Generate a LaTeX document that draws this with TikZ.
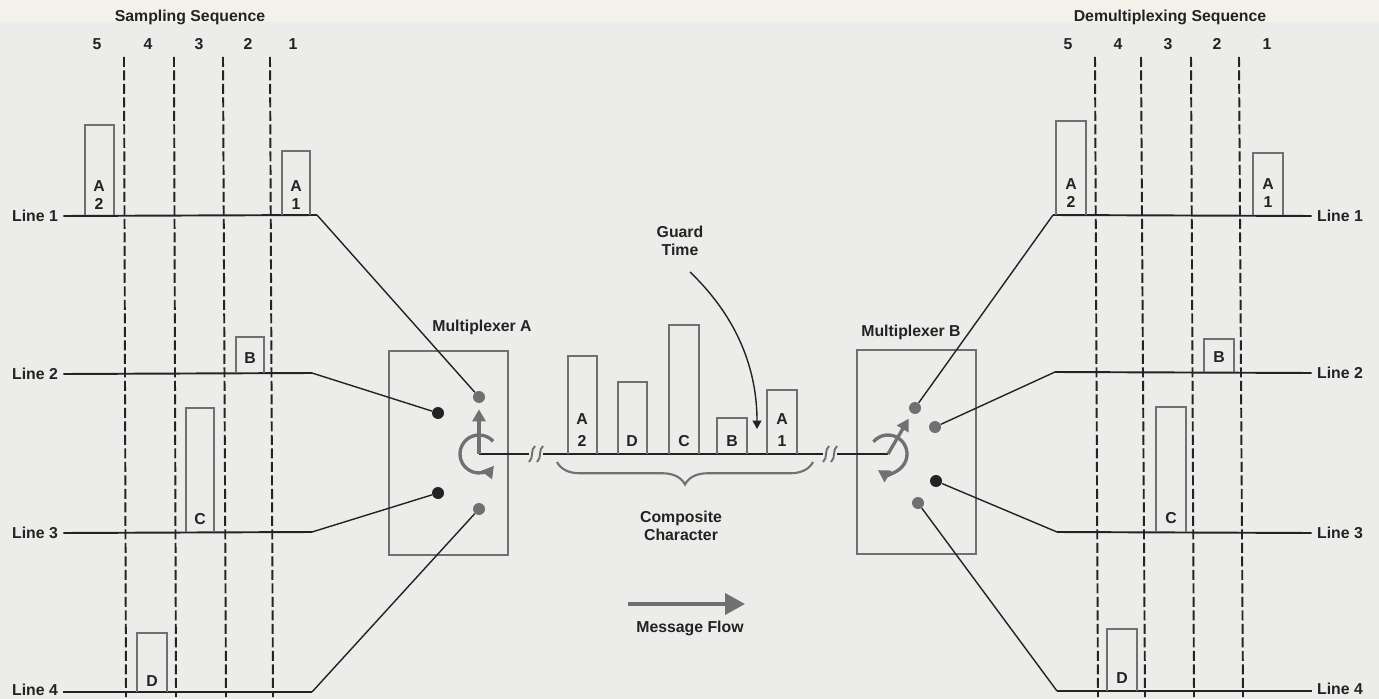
\documentclass[tikz,border=0pt]{standalone}
\usepackage{fontspec}
\setmainfont{Liberation Sans}
\usepackage{tikz}
\usetikzlibrary{arrows.meta,calc,decorations.pathreplacing}
\definecolor{paper}{RGB}{236,236,234}
\definecolor{cream}{RGB}{243,241,234}
\definecolor{ink}{RGB}{35,35,35}
\definecolor{pen}{RGB}{112,112,112}

\begin{document}
\begin{tikzpicture}[
    x=0.02cm, y=-0.02cm,
    txt/.style={font=\fontsize{9}{10}\selectfont\bfseries, text=ink, align=center, inner sep=1pt},
    linelbl/.style={txt, inner sep=3pt},
    sig/.style={draw=ink, line width=1.1pt},
    wire/.style={draw=ink, line width=0.8pt},
    pulse/.style={draw=pen, line width=1.1pt},
    slot/.style={draw=ink, line width=1.1pt, dash pattern=on 0.2cm off 0.07cm},
    mux/.style={draw=pen, line width=1.3pt, minimum width=2.38cm, minimum height=4.08cm, inner sep=0pt},
    dotk/.style={circle, fill=ink, inner sep=0pt, minimum size=0.24cm},
    dotg/.style={dotk, fill=pen},
    rotor/.style={draw=pen, line width=1.9pt},
    brk/.style={draw=pen, line width=1.1pt},
    flow/.style={draw=pen, line width=2.2pt, -{Triangle[length=0.4cm, width=0.42cm]}},
    tip/.style={-{Triangle[length=0.17cm, width=0.18cm]}},
    rtip/.style={-{Triangle[length=0.24cm, width=0.26cm]}}
]

% Paper
\fill[paper] (0,0) rectangle (1379,699);
\fill[cream] (0,0) rectangle (1379,22);
\useasboundingbox (0,0) rectangle (1379,699);

% Titles
\node[txt] (smpTitle) at (190,17) {Sampling Sequence};
\node[txt] (dmxTitle) at (1170,17) {Demultiplexing Sequence};

% Slot numbers (sampling)
\node[txt] (sn5) at (97,44) {5};
\node[txt] (sn4) at (148,44) {4};
\node[txt] (sn3) at (199,44) {3};
\node[txt] (sn2) at (248,44) {2};
\node[txt] (sn1) at (293,44) {1};

% Slot numbers (demultiplexing)
\node[txt] (dn5) at (1068,44) {5};
\node[txt] (dn4) at (1118,44) {4};
\node[txt] (dn3) at (1168,44) {3};
\node[txt] (dn2) at (1217,44) {2};
\node[txt] (dn1) at (1267,44) {1};

% Slot boundaries
\draw[slot] (124,57) -- (126,697);
\draw[slot] (174,57) -- (176,697);
\draw[slot] (223,57) -- (226,697);
\draw[slot] (270,57) -- (273,697);
\draw[slot] (1095,57) -- (1098,697);
\draw[slot] (1141,57) -- (1145,697);
\draw[slot] (1191,57) -- (1194,697);
\draw[slot] (1239,57) -- (1243,697);

% Line labels (left)
\node[linelbl] (lineL1) at (35,216) {Line 1};
\node[linelbl] (lineL2) at (35,374) {Line 2};
\node[linelbl] (lineL3) at (35,533) {Line 3};
\node[linelbl] (lineL4) at (35,690) {Line 4};

% Line labels (right)
\node[linelbl] (lineR1) at (1340,216) {Line 1};
\node[linelbl] (lineR2) at (1340,373) {Line 2};
\node[linelbl] (lineR3) at (1340,533) {Line 3};
\node[linelbl] (lineR4) at (1340,689) {Line 4};

% Multiplexers
\node[mux] (muxA) at (448.5,453) {};
\node[mux] (muxB) at (916.5,452) {};
\node[txt] (muxAlbl) at (482,327) {Multiplexer A};
\node[txt] (muxBlbl) at (911,332) {Multiplexer B};

% Contacts
\node[dotg] (dA1) at (479,397) {};
\node[dotk] (dA2) at (438,413) {};
\node[dotk] (dA3) at (438,493) {};
\node[dotg] (dA4) at (479,509) {};
\node[dotg] (dB1) at (915,408) {};
\node[dotg] (dB2) at (935,427) {};
\node[dotk] (dB3) at (936,481) {};
\node[dotg] (dB4) at (918,503) {};

% Bends of the lines
\coordinate (kL1) at (317,215);
\coordinate (kL2) at (312,373);
\coordinate (kL3) at (312,532);
\coordinate (kL4) at (312,692);
\coordinate (kR1) at (1053,215);
\coordinate (kR2) at (1055,372);
\coordinate (kR3) at (1057,532);
\coordinate (kR4) at (1057,691);

% Input lines to multiplexer A
\draw[sig] (lineL1.east) -- (kL1);
\draw[wire] (kL1) -- (dA1);
\draw[sig] (lineL2.east) -- (kL2);
\draw[wire] (kL2) -- (dA2);
\draw[sig] (lineL3.east) -- (kL3);
\draw[wire] (kL3) -- (dA3);
\draw[sig] (lineL4.east |- kL4) -- (kL4);
\draw[wire] (kL4) -- (dA4);

% Output lines from multiplexer B
\draw[wire] (dB1) -- (kR1);
\draw[sig] (kR1) -- (lineR1.west);
\draw[wire] (dB2) -- (kR2);
\draw[sig] (kR2) -- (lineR2.west);
\draw[wire] (dB3) -- (kR3);
\draw[sig] (kR3) -- (lineR3.west);
\draw[wire] (dB4) -- (kR4);
\draw[sig] (kR4) -- (lineR4.west |- kR4);

% Sampled characters (left)
\draw[pulse] (85,215) |- (114,125) -- (114,215);
\node[txt] (pA2) at (99,195) {A\\2};
\draw[pulse] (282,215) |- (310,151) -- (310,215);
\node[txt] (pA1) at (296,195) {A\\1};
\draw[pulse] (236,373) |- (264,337) -- (264,373);
\node[txt] (pB) at (250,358) {B};
\draw[pulse] (186,532) |- (214,408) -- (214,532);
\node[txt] (pC) at (200,519) {C};
\draw[pulse] (137,692) |- (167,633) -- (167,692);
\node[txt] (pD) at (152,681) {D};

% Demultiplexed characters (right)
\draw[pulse] (1056,215) |- (1086,121) -- (1086,215);
\node[txt] (qA2) at (1071,193) {A\\2};
\draw[pulse] (1253,215) |- (1283,153) -- (1283,215);
\node[txt] (qA1) at (1268,193) {A\\1};
\draw[pulse] (1204,372) |- (1234,339) -- (1234,372);
\node[txt] (qB) at (1219,357) {B};
\draw[pulse] (1156,532) |- (1186,407) -- (1186,532);
\node[txt] (qC) at (1171,518) {C};
\draw[pulse] (1107,691) |- (1137,629) -- (1137,691);
\node[txt] (qD) at (1122,678) {D};

% Composite line with breaks
\coordinate (rotA) at (479,454);
\coordinate (rotB) at (888,454);
\coordinate (cutA1) at (529,454);
\coordinate (cutA2) at (543,454);
\coordinate (cutB1) at (823,454);
\coordinate (cutB2) at (837,454);
\draw[sig] (rotA) -- (cutA1);
\draw[sig] (cutA2) -- (cutB1);
\draw[sig] (cutB2) -- (rotB);
\draw[brk] (535,446) .. controls (530,450) and (534,458) .. (529,462);
\draw[brk] (543,446) .. controls (538,450) and (542,458) .. (537,462);
\draw[brk] (829,446) .. controls (824,450) and (828,458) .. (823,462);
\draw[brk] (837,446) .. controls (832,450) and (836,458) .. (831,462);

% Composite character
\draw[pulse] (568,454) |- (597,356) -- (597,454);
\node[txt] (cA2) at (582,430) {A\\[2.5pt]2};
\draw[pulse] (618,454) |- (647,382) -- (647,454);
\node[txt] (cD) at (632,441) {D};
\draw[pulse] (669,454) |- (699,325) -- (699,454);
\node[txt] (cC) at (684,441) {C};
\draw[pulse] (717,454) |- (747,418) -- (747,454);
\node[txt] (cB) at (732,441) {B};
\draw[pulse] (767,454) |- (797,390) -- (797,454);
\node[txt] (cA1) at (782,430) {A\\[2.5pt]1};

% Brace and label
\draw[pen, line width=1.2pt, decorate, decoration={brace, mirror, amplitude=0.45cm}] (557,462) -- (813,462);
\node[txt] (compLbl) at (681,526) {Composite\\Character};

% Guard time
\node[txt] (guardLbl) at (680,241) {Guard\\Time};
\coordinate (gtEnd) at (757,429);
\draw[wire, tip] (690,272) .. controls (738,318) and (757,370) .. (gtEnd);

% Rotors
\draw[rotor, rtip, shorten >=0.12cm] (rotA) -- (dA1);
\draw[rotor, rtip] ($(rotA)+(-42:19)$) arc[start angle=-42, end angle=-322, radius=19];
\draw[rotor, rtip, shorten >=0.12cm] (rotB) -- (dB1);
\draw[rotor, rtip] ($(rotB)+(-140:19)$) arc[start angle=-140, end angle=122, radius=19];

% Message flow
\coordinate (mfS) at (628,604);
\coordinate (mfE) at (745,604);
\draw[flow] (mfS) -- (mfE);
\node[txt] (flowLbl) at (690,628) {Message Flow};

\end{tikzpicture}
\end{document}
